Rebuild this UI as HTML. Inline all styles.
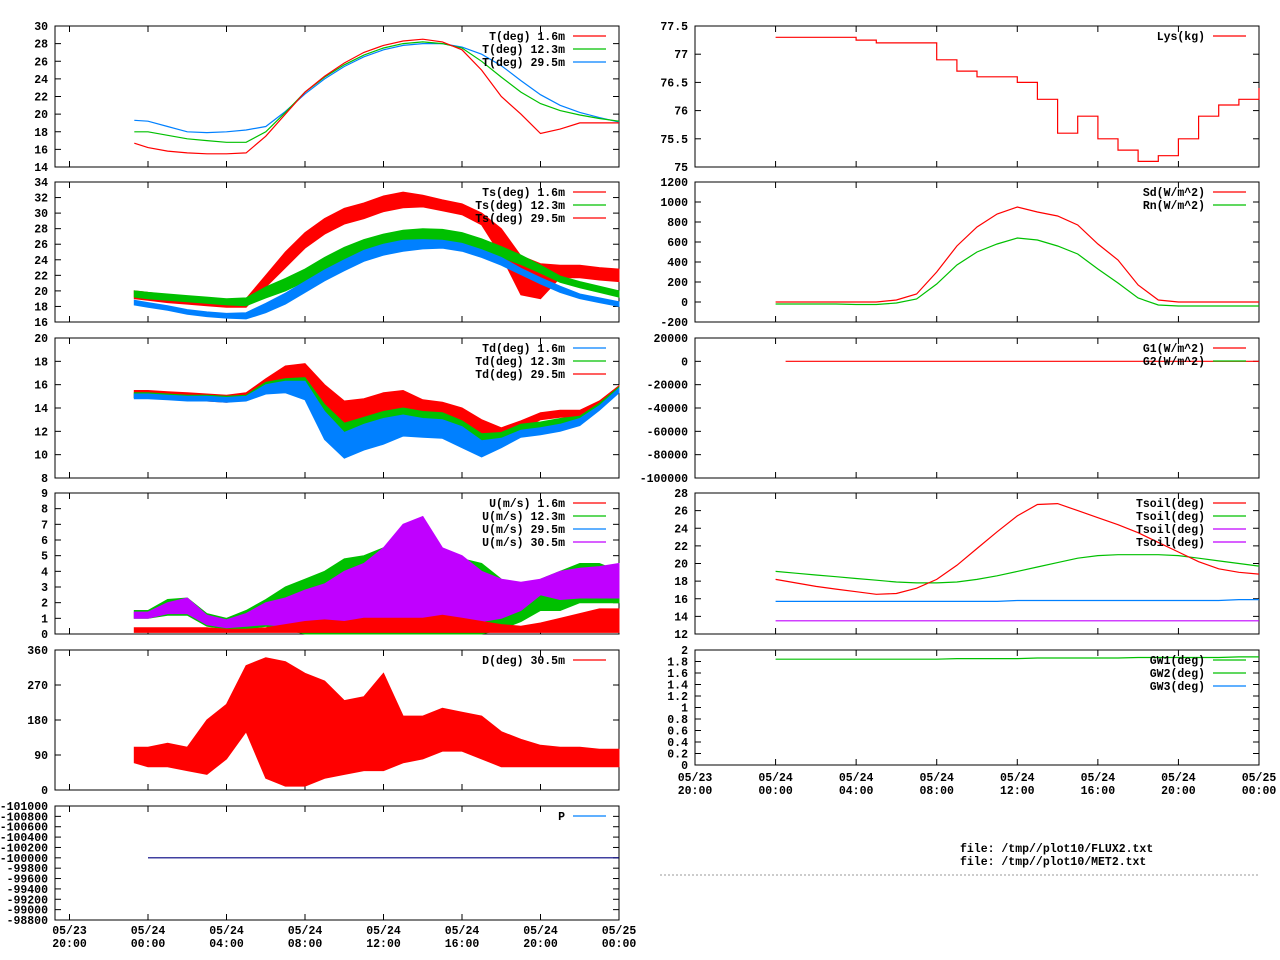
<!DOCTYPE html>
<html><head><meta charset="utf-8"><title>Met plots</title>
<style>
html,body{margin:0;padding:0;background:#fff;}
svg{display:block;font-family:"Liberation Mono","DejaVu Sans Mono",monospace;font-weight:bold;font-size:11.5px;}
</style></head>
<body>
<svg id="chart" width="1280" height="960" viewBox="0 0 1280 960" xmlns="http://www.w3.org/2000/svg"></svg>
<script>
// ---------- data ----------
const tLeft = [-0.7,0,1,2,3,4,5,6,7,8,9,10,11,12,13,14,15,16,17,18,19,20,21,22,23,24];
const tRight = [0,1,2,3,4,5,6,7,8,9,10,11,12,13,14,15,16,17,18,19,20,21,22,23,24];
const xTickHours = [-4,0,4,8,12,16,20,24];
const xTickLine1 = ["05/23","05/24","05/24","05/24","05/24","05/24","05/24","05/25"];
const xTickLine2 = ["20:00","00:00","04:00","08:00","12:00","16:00","20:00","00:00"];

const tRed = [16.7,16.2,15.8,15.6,15.5,15.5,15.6,17.5,20,22.5,24.3,25.8,27,27.8,28.3,28.5,28.2,27.3,25,22,20,17.8,18.3,19,19,19];
const tGreen = [18,18,17.6,17.2,17,16.8,16.8,18,20.2,22.5,24.2,25.6,26.7,27.5,28,28.2,28,27.5,26,24.2,22.5,21.2,20.4,19.9,19.5,19.2];
const tBlue = [19.3,19.2,18.6,18,17.9,18,18.2,18.6,20.3,22.3,24,25.4,26.5,27.3,27.8,28,28,27.6,26.8,25.5,23.8,22.2,21,20.2,19.6,19.1];

const tsRedLo = [19,18.8,18.5,18.3,18.1,17.9,17.9,20.5,23,25.5,27.3,28.6,29.3,30.2,30.7,30.8,30.3,29.8,28.5,24.5,19.5,19,21.7,21.7,21.4,21.2];
const tsRedHi = [20,19.8,19.5,19.3,19.1,18.9,19,22,25,27.5,29.3,30.6,31.3,32.2,32.7,32.3,31.7,31.2,30,28,24.5,23.5,23.3,23.3,23,22.8];
const tsGreenMid = [19.6,19.4,19.2,19,18.8,18.6,18.6,19.8,20.8,22,23.5,24.8,25.8,26.5,27,27.3,27.2,26.8,26,25,24,22.8,21.5,20.8,20.2,19.6];
const tsGreenSp = [0.4,0.4,0.4,0.4,0.4,0.4,0.5,0.7,0.8,0.8,0.8,0.8,0.8,0.8,0.8,0.7,0.7,0.7,0.7,0.7,0.6,0.5,0.4,0.4,0.4,0.4];
const tsBlueMid = [18.5,18.2,17.8,17.3,17,16.8,16.8,17.8,19,20.5,22,23.3,24.5,25.3,25.8,26,26,25.6,24.8,23.8,22.5,21.3,20.2,19.3,18.8,18.3];
const tsBlueSp = [0.3,0.3,0.3,0.3,0.3,0.3,0.4,0.6,0.7,0.7,0.7,0.7,0.7,0.7,0.7,0.6,0.5,0.5,0.5,0.5,0.4,0.4,0.4,0.3,0.3,0.3];

const tdRedMid = [15.2,15.2,15.1,15,14.9,14.8,15,16,16.8,16.8,14,12.8,13,13.5,14,13.5,13.5,12.8,12,11.8,12.5,13.3,13.5,13.5,14.3,15.7];
const tdRedSp = [0.3,0.3,0.3,0.3,0.3,0.3,0.3,0.5,0.8,1,2,1.8,1.8,1.8,1.5,1.2,1,1.2,1,0.5,0.4,0.3,0.3,0.3,0.3,0.2];
const tdGreenMid = [15.1,15.1,15,14.9,14.9,14.8,14.9,15.8,16,15.8,13,11.5,12,12.5,13,12.8,12.8,12,11,11.5,12.3,12.5,12.8,13,14.2,15.6];
const tdGreenSp = [0.2,0.2,0.2,0.2,0.2,0.2,0.2,0.4,0.5,0.8,1.3,1.2,1.2,1.2,1,0.9,0.8,0.9,0.8,0.4,0.3,0.3,0.3,0.3,0.2,0.2];
const tdBlueMid = [15,15,14.9,14.8,14.8,14.7,14.8,15.6,15.8,15.5,12.5,10.8,11.5,12,12.5,12.3,12.2,11.5,10.5,11,11.8,12,12.3,12.8,14,15.5];
const tdBlueSp = [0.2,0.2,0.2,0.2,0.2,0.2,0.2,0.4,0.5,0.8,1.2,1.1,1.1,1.1,0.9,0.8,0.8,0.9,0.7,0.4,0.3,0.3,0.3,0.3,0.2,0.2];

const uRedLo = [0.1,0.1,0.1,0.1,0.1,0.1,0.1,0.1,0.1,0.1,0.1,0.1,0.1,0.1,0.1,0.1,0.1,0.1,0.1,0.1,0.1,0.1,0.1,0.1,0.1,0.1];
const uRedHi = [0.4,0.4,0.4,0.4,0.4,0.3,0.3,0.4,0.6,0.8,0.9,0.8,1,1,1,1,1.2,1,0.8,0.6,0.5,0.7,1,1.3,1.6,1.6];
const uGreenLo = [1,1,1.2,1.2,0.5,0.3,0.3,0.5,0.3,0,0,0,0,0,0,0,0,0,0,0.3,0.8,1.5,1.5,2,2,2];
const uGreenHi = [1.5,1.5,2.2,2.3,1.3,1,1.5,2.2,3,3.5,4,4.8,5,5.5,6.5,6,5,4.8,4.5,3.5,3,3.5,4,4.5,4.5,4];
const uPurpleLo = [1,1,1.3,1.3,0.6,0.4,0.5,0.6,0.5,0.5,0.5,0.5,0.5,0.5,0.8,0.8,0.8,0.8,0.8,1,1.5,2.5,2.2,2.3,2.3,2.3];
const uPurpleHi = [1.4,1.4,2,2.3,1.2,0.9,1.3,2,2.3,2.8,3.2,4,4.5,5.5,7,7.5,5.5,5,4,3.5,3.3,3.5,4,4.2,4.3,4.5];

const dLo = [70,60,60,50,40,80,150,30,10,10,30,40,50,50,70,80,100,100,80,60,60,60,60,60,60,60];
const dHi = [110,110,120,110,180,220,320,340,330,300,280,230,240,300,190,190,210,200,190,150,130,115,110,110,105,105];

const pTimes = [0,24];
const pVals = [-100000,-100000];

const lys = [77.3,77.3,77.3,77.3,77.25,77.2,77.2,77.2,76.9,76.7,76.6,76.6,76.5,76.2,75.6,75.9,75.5,75.3,75.1,75.2,75.5,75.9,76.1,76.2,76.4];
const sd = [0,0,0,0,0,0,20,80,300,560,750,880,950,900,860,770,580,420,170,20,0,0,0,0,0];
const rn = [-20,-20,-20,-20,-25,-25,-10,30,180,370,500,580,640,620,560,480,330,190,40,-30,-40,-40,-40,-40,-40];
const g1Times = [0.5,24];
const g1Vals = [0,0];
const tsoilRed = [18.2,17.8,17.4,17.1,16.8,16.5,16.6,17.2,18.2,19.8,21.7,23.6,25.4,26.7,26.8,26,25.2,24.4,23.5,22.4,21.3,20.2,19.4,19,18.8];
const tsoilGreen = [19.1,18.9,18.7,18.5,18.3,18.1,17.9,17.8,17.8,17.9,18.2,18.6,19.1,19.6,20.1,20.6,20.9,21,21,21,20.9,20.6,20.3,20,19.7];
const tsoilBlue = [15.7,15.7,15.7,15.7,15.7,15.7,15.7,15.7,15.7,15.7,15.7,15.7,15.8,15.8,15.8,15.8,15.8,15.8,15.8,15.8,15.8,15.8,15.8,15.9,15.9];
const tsoilPurple = [13.5,13.5,13.5,13.5,13.5,13.5,13.5,13.5,13.5,13.5,13.5,13.5,13.5,13.5,13.5,13.5,13.5,13.5,13.5,13.5,13.5,13.5,13.5,13.5,13.5];
const gw1 = [1.84,1.84,1.84,1.84,1.84,1.84,1.84,1.84,1.84,1.85,1.85,1.85,1.85,1.86,1.86,1.86,1.86,1.86,1.87,1.87,1.87,1.87,1.87,1.88,1.88];

// ---------- drawing ----------
const svg = document.getElementById('chart');
const NS = 'http://www.w3.org/2000/svg';
const RED='#ff0000', GREEN='#00c000', BLUE='#0080ff', PURPLE='#c000ff';

function el(tag, attrs, name, parent){
  const e = document.createElementNS(NS, tag);
  for (const k in attrs) e.setAttribute(k, attrs[k]);
  
  
  (parent||svg).appendChild(e);
  return e;
}
function txt(x,y,s,anchor,name,parent){
  const t = el('text',{x:x,y:y,'text-anchor':anchor||'start'},name,parent);
  t.textContent = s;
  return t;
}
function mkPanel(id, x0,x1,y0,y1,vmin,vmax,tmin,tmax){
  const g = el('g',{},id);
  const p = {g,x0,x1,y0,y1,vmin,vmax,tmin,tmax};
  p.X = t => x0 + (t - tmin)/(tmax - tmin)*(x1 - x0);
  p.Y = v => y1 - (v - vmin)/(vmax - vmin)*(y1 - y0);
  el('rect',{x:x0,y:y0,width:x1-x0,height:y1-y0,fill:'none',stroke:'#000','stroke-width':1},id+'-frame',g);
  return p;
}
function yTicks(p, vals, labels){
  vals.forEach((v,i)=>{
    const y = p.Y(v);
    el('line',{x1:p.x0,x2:p.x0+6,y1:y,y2:y,stroke:'#000'},'y-tick',p.g);
    el('line',{x1:p.x1,x2:p.x1-6,y1:y,y2:y,stroke:'#000'},'y-tick',p.g);
    txt(p.x0-7, y+4, labels[i], 'end', 'y-tick-label', p.g);
  });
}
function xTicks(p){
  xTickHours.forEach(h=>{
    const x = p.X(h);
    el('line',{x1:x,x2:x,y1:p.y1,y2:p.y1-6,stroke:'#000'},'x-tick',p.g);
    el('line',{x1:x,x2:x,y1:p.y0,y2:p.y0+6,stroke:'#000'},'x-tick',p.g);
  });
}
function xLabels(p, dy){
  xTickHours.forEach((h,i)=>{
    const x = p.X(h);
    txt(x, p.y1+14+dy, xTickLine1[i], 'middle', 'x-tick-label-date', svg);
    txt(x, p.y1+27+dy, xTickLine2[i], 'middle', 'x-tick-label-time', svg);
  });
}
function line(p, ts, vs, color, name, step){
  let d = '';
  ts.forEach((t,i)=>{
    const x = p.X(t).toFixed(1), y = p.Y(vs[i]).toFixed(1);
    if (i===0) d += 'M'+x+' '+y;
    else if (step) d += 'H'+x+'V'+y;
    else d += 'L'+x+' '+y;
  });
  el('path',{d:d,fill:'none',stroke:color,'stroke-width':1.2},name,p.g);
}
function band(p, ts, lo, hi, color, name){
  let d = '';
  ts.forEach((t,i)=>{ d += (i?'L':'M')+p.X(t).toFixed(1)+' '+p.Y(hi[i]).toFixed(1); });
  for (let i=ts.length-1;i>=0;i--) d += 'L'+p.X(ts[i]).toFixed(1)+' '+p.Y(lo[i]).toFixed(1);
  d += 'Z';
  el('path',{d:d,fill:color,stroke:color,'stroke-width':1},name,p.g);
}
function bandMid(p, ts, mid, sp, color, name){
  band(p, ts, mid.map((m,i)=>m-sp[i]), mid.map((m,i)=>m+sp[i]), color, name);
}
function legend(p, entries, xr){
  entries.forEach((e,i)=>{
    const y = p.y0 + 10 + i*13;
    txt(xr, y+4, e[0], 'end', 'legend-label', p.g);
    el('line',{x1:xr+8,x2:xr+41,y1:y,y2:y,stroke:e[1],'stroke-width':1.2},'legend-swatch',p.g);
  });
}
function range(a,b,s){const r=[];for(let v=a;v<=b+1e-9;v+=s)r.push(+v.toFixed(4));return r;}

const LX0=55, LX1=619;
const ltmin = (55-148)/19.625, ltmax = 24;
const rtmin = -4, rtmax = 24;

// Left 1: T
let p = mkPanel('panel-temperature',LX0,LX1,26,167,14,30,ltmin,ltmax);
let v = range(14,30,2); yTicks(p,v,v.map(String)); xTicks(p);
line(p,tLeft,tBlue,BLUE,'series-t-29-5m');
line(p,tLeft,tGreen,GREEN,'series-t-12-3m');
line(p,tLeft,tRed,RED,'series-t-1-6m');
legend(p,[['T(deg)  1.6m',RED],['T(deg) 12.3m',GREEN],['T(deg) 29.5m',BLUE]],565);

// Left 2: Ts
p = mkPanel('panel-sonic-temperature',LX0,LX1,182,322,16,34,ltmin,ltmax);
v = range(16,34,2); yTicks(p,v,v.map(String)); xTicks(p);
band(p,tLeft,tsRedLo,tsRedHi,RED,'series-ts-29-5m');
bandMid(p,tLeft,tsGreenMid,tsGreenSp,GREEN,'series-ts-12-3m');
bandMid(p,tLeft,tsBlueMid,tsBlueSp,BLUE,'series-ts-1-6m');
legend(p,[['Ts(deg)  1.6m',RED],['Ts(deg) 12.3m',GREEN],['Ts(deg) 29.5m',RED]],565);

// Left 3: Td
p = mkPanel('panel-dewpoint',LX0,LX1,338,478,8,20,ltmin,ltmax);
v = range(10,20,2); yTicks(p,v,v.map(String)); xTicks(p);
txt(p.x0-7,p.Y(8)+4,'8','end','y-tick-label',p.g);
bandMid(p,tLeft,tdRedMid,tdRedSp,RED,'series-td-29-5m');
bandMid(p,tLeft,tdGreenMid,tdGreenSp,GREEN,'series-td-12-3m');
bandMid(p,tLeft,tdBlueMid,tdBlueSp,BLUE,'series-td-1-6m');
legend(p,[['Td(deg)  1.6m',BLUE],['Td(deg) 12.3m',GREEN],['Td(deg) 29.5m',RED]],565);

// Left 4: U
p = mkPanel('panel-wind-speed',LX0,LX1,493,634,0,9,ltmin,ltmax);
v = range(0,9,1); yTicks(p,v,v.map(String)); xTicks(p);
band(p,tLeft,uGreenLo,uGreenHi,GREEN,'series-u-12-3m');
band(p,tLeft,uPurpleLo,uPurpleHi,PURPLE,'series-u-30-5m');
band(p,tLeft,uRedLo,uRedHi,RED,'series-u-1-6m');
legend(p,[['U(m/s)  1.6m',RED],['U(m/s) 12.3m',GREEN],['U(m/s) 29.5m',BLUE],['U(m/s) 30.5m',PURPLE]],565);

// Left 5: D
p = mkPanel('panel-wind-direction',LX0,LX1,650,790,0,360,ltmin,ltmax);
v = range(0,360,90); yTicks(p,v,v.map(String)); xTicks(p);
band(p,tLeft,dLo,dHi,RED,'series-d-30-5m');
legend(p,[['D(deg)  30.5m',RED]],565);

// Left 6: P
p = mkPanel('panel-pressure',LX0,LX1,806,920,-101000,-98800,ltmin,ltmax);
p.Y = val => 806 + (val+101000)/2200*114;
v = range(-101000,-98800,200);
v.forEach(val=>{const y=p.Y(val);
  el('line',{x1:p.x0,x2:p.x0+6,y1:y,y2:y,stroke:'#000'},'y-tick',p.g);
  el('line',{x1:p.x1,x2:p.x1-6,y1:y,y2:y,stroke:'#000'},'y-tick',p.g);
  txt(p.x0-7,y+4,String(val),'end','y-tick-label',p.g);});
xTicks(p);
line(p,pTimes,pVals,'#000080','series-p');
legend(p,[['P',BLUE]],565);
xLabels(p,0);

// Right
const RX0=695, RX1=1259;
p = mkPanel('panel-lysimeter',RX0,RX1,26,167,75,77.5,rtmin,rtmax);
v = range(75,77.5,0.5); yTicks(p,v,v.map(String)); xTicks(p);
line(p,tRight,lys,RED,'series-lys',true);
legend(p,[['Lys(kg)',RED]],1205);

p = mkPanel('panel-radiation',RX0,RX1,182,322,-200,1200,rtmin,rtmax);
v = range(-200,1200,200); yTicks(p,v,v.map(String)); xTicks(p);
line(p,tRight,rn,GREEN,'series-rn');
line(p,tRight,sd,RED,'series-sd');
legend(p,[['Sd(W/m^2)',RED],['Rn(W/m^2)',GREEN]],1205);

p = mkPanel('panel-ground-heat',RX0,RX1,338,478,-100000,20000,rtmin,rtmax);
v = range(-100000,20000,20000); yTicks(p,v,v.map(String)); xTicks(p);
line(p,g1Times,g1Vals,RED,'series-g1');
legend(p,[['G1(W/m^2)',RED],['G2(W/m^2)',GREEN]],1205);

p = mkPanel('panel-soil-temperature',RX0,RX1,493,634,12,28,rtmin,rtmax);
v = range(12,28,2); yTicks(p,v,v.map(String)); xTicks(p);
line(p,tRight,tsoilPurple,PURPLE,'series-tsoil-4');
line(p,tRight,tsoilBlue,BLUE,'series-tsoil-3');
line(p,tRight,tsoilGreen,GREEN,'series-tsoil-2');
line(p,tRight,tsoilRed,RED,'series-tsoil-1');
legend(p,[['Tsoil(deg)',RED],['Tsoil(deg)',GREEN],['Tsoil(deg)',PURPLE],['Tsoil(deg)',PURPLE]],1205);

p = mkPanel('panel-ground-water',RX0,RX1,650,765,0,2,rtmin,rtmax);
v = range(0,2,0.2); yTicks(p,v,v.map(x=>String(+x.toFixed(1)))); xTicks(p);
line(p,tRight,gw1,GREEN,'series-gw1');
legend(p,[['GW1(deg)',GREEN],['GW2(deg)',GREEN],['GW3(deg)',BLUE]],1205);
xLabels(p,2);

txt(960,852,'file: /tmp//plot10/FLUX2.txt','start','file-label-flux');
txt(960,865,'file: /tmp//plot10/MET2.txt','start','file-label-met');
el('line',{x1:660,x2:1259,y1:875,y2:875,stroke:'#999','stroke-dasharray':'2,2'},'separator-line');
</script>
</body></html>
